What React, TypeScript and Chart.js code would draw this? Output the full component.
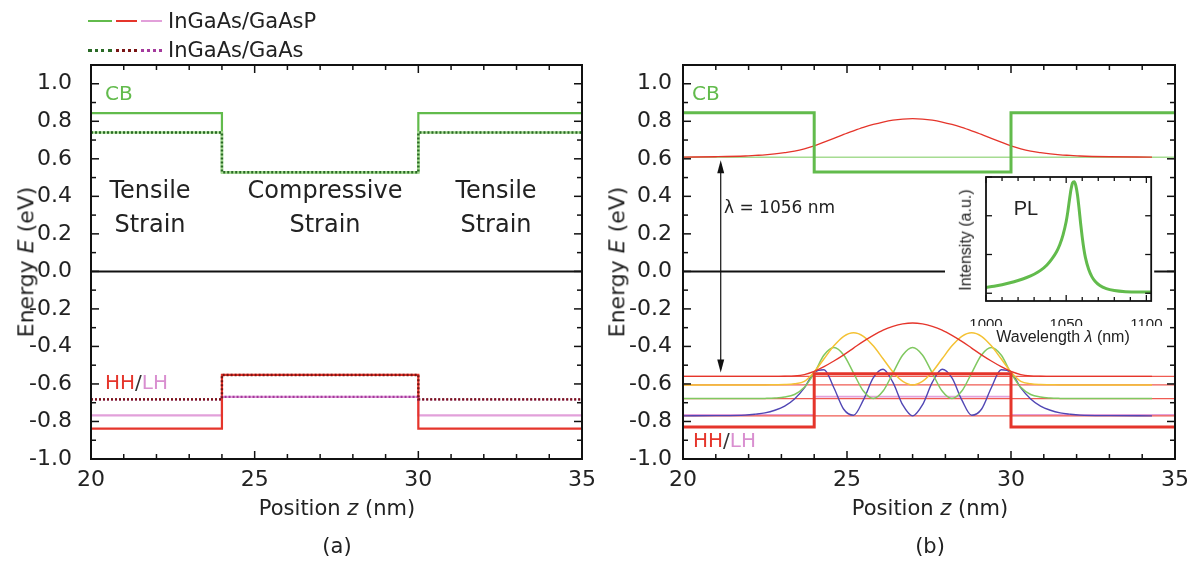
import React, { useEffect, useRef } from "react";
import { Chart, registerables } from "chart.js";

Chart.register(...registerables);

const MAIN_FONT = "'DejaVu Sans', 'Liberation Sans', sans-serif";
const INSET_FONT = "'Liberation Sans', Arial, sans-serif";
const TEXT = "#222";

// ---------------- axes ----------------
const Z_RANGE = [20, 35];
const E_RANGE = [-1.0, 1.1];
const Z_TICKS = [20, 25, 30, 35];
const E_TICKS = [-1.0, -0.8, -0.6, -0.4, -0.2, 0.0, 0.2, 0.4, 0.6, 0.8, 1.0];

// ---------------- band edges: [barrier, well, barrier] ----------------
const REGION_EDGES = [20, 24, 30, 35];
// panel (a)
const CB_GAASP = [0.843, 0.528, 0.843];
const CB_GAAS = [0.74, 0.528, 0.74];
const HH_GAASP = [-0.838, -0.552, -0.838];
const LH_GAASP = [-0.768, -0.669, -0.768];
const HH_GAAS = [-0.682, -0.552, -0.682];
const LH_GAAS = [-0.682, -0.669, -0.682];
const ZERO_E = [0, 0];
// panel (b)
const CB_B = [0.845, 0.53, 0.845];
const HH_B = [-0.83, -0.545, -0.83];
const LH_B = [-0.765, -0.668, -0.765];
const CB_LEVEL = 0.608;
const HOLE_LEVELS = [-0.56, -0.605, -0.678, -0.77];

// ---------------- wavefunctions (panel b) ----------------
const Z_WF = [20, 21, 21.9, 22.2, 22.5, 22.8, 23.1, 23.4, 23.7, 24.0, 24.3, 24.6, 24.9, 25.2, 25.5, 25.8, 26.1, 26.4, 26.7, 27.0,
  27.3, 27.6, 27.9, 28.2, 28.5, 28.8, 29.1, 29.4, 29.7, 30.0, 30.3, 30.6, 30.9, 31.2, 31.5, 31.8, 32.1, 33, 34.3, 35];
const ELECTRON = [0.609, 0.611, 0.615, 0.618, 0.621, 0.626, 0.633, 0.641, 0.653, 0.669, 0.689, 0.709, 0.730, 0.749, 0.767, 0.783, 0.796, 0.806, 0.812, 0.814,
  0.812, 0.806, 0.796, 0.783, 0.767, 0.749, 0.730, 0.709, 0.689, 0.669, 0.653, 0.641, 0.633, 0.626, 0.621, 0.618, 0.615, 0.611, 0.609, null];
const HOLE1 = [-0.56, -0.56, -0.56, -0.56, -0.56, -0.56, -0.559, -0.557, -0.55, -0.533, -0.508, -0.478, -0.445, -0.409, -0.373, -0.341, -0.313, -0.293, -0.28, -0.275,
  -0.28, -0.293, -0.313, -0.341, -0.373, -0.409, -0.445, -0.478, -0.508, -0.533, -0.55, -0.557, -0.559, -0.56, -0.56, -0.56, -0.56, -0.56, -0.56, null];
const HOLE2 = [-0.605, -0.605, -0.605, -0.605, -0.605, -0.604, -0.603, -0.599, -0.586, -0.536, -0.466, -0.397, -0.346, -0.327, -0.346, -0.397, -0.466, -0.536, -0.586, -0.605,
  -0.586, -0.536, -0.466, -0.397, -0.346, -0.327, -0.346, -0.397, -0.466, -0.536, -0.586, -0.599, -0.603, -0.604, -0.605, -0.605, -0.605, -0.605, -0.605, null];
const HOLE3 = [-0.678, -0.678, -0.678, -0.678, -0.677, -0.675, -0.67, -0.656, -0.618, -0.542, -0.446, -0.406, -0.446, -0.542, -0.638, -0.678, -0.638, -0.542, -0.446, -0.406,
  -0.446, -0.542, -0.638, -0.678, -0.638, -0.542, -0.446, -0.406, -0.446, -0.542, -0.618, -0.656, -0.67, -0.675, -0.677, -0.678, -0.678, -0.678, -0.678, null];
const HOLE4 = [-0.77, -0.769, -0.766, -0.761, -0.754, -0.74, -0.718, -0.68, -0.621, -0.538, -0.524, -0.62, -0.735, -0.767, -0.685, -0.568, -0.522, -0.592, -0.712, -0.77,
  -0.712, -0.592, -0.522, -0.568, -0.685, -0.767, -0.735, -0.62, -0.524, -0.538, -0.621, -0.68, -0.718, -0.74, -0.754, -0.761, -0.766, -0.769, -0.77, null];

// transition arrow (panel b)
const ARROW_Z = 21.15;
const ARROW_E = [0.608, -0.56];

// ---------------- inset PL spectrum ----------------
const WL_RANGE = [1000, 1103];
const PL_RANGE = [-0.2, 3.0];
const WL_TICKS = [1000, 1050, 1100];
const WAVELENGTH = [1000, 1005, 1010, 1015, 1020, 1025, 1030, 1034, 1038, 1041, 1044, 1046, 1048, 1050, 1051, 1052, 1053, 1054, 1055,
  1056, 1057, 1058, 1059, 1060, 1061, 1062, 1064, 1066, 1068, 1071, 1075, 1080, 1087, 1095, 1103];
const PL = [0.15, 0.18, 0.22, 0.27, 0.33, 0.4, 0.49, 0.59, 0.73, 0.88, 1.07, 1.25, 1.5, 1.85, 2.1, 2.4, 2.68, 2.85, 2.88,
  2.78, 2.55, 2.2, 1.8, 1.45, 1.15, 0.92, 0.62, 0.43, 0.31, 0.2, 0.12, 0.07, 0.04, 0.03, 0.03];

// ---------------- palette ----------------
const COL = {
  green: "#62bb4c", greenLight: "#a6dc92", greenDot: "#2a6a26",
  red: "#e5352b", redDot: "#7a1515", pink: "#e2a0da", magDot: "#a43a9c",
  level: "#ef5b52", yellow: "#f4c235", wfGreen: "#80c860", blue: "#5046b4",
  black: "#111",
};

// ---------------- helpers ----------------
const steps = (vals: number[]) => REGION_EDGES.map((z, i) => ({ x: z, y: vals[Math.min(i, vals.length - 1)] }));
const flat = (e: number) => Z_RANGE.map((z) => ({ x: z, y: e }));
const pairs = (zs: number[], es: (number | null)[]) =>
  zs.map((z, i) => ({ x: z, y: es[i] })).filter((p) => p.y !== null && p.y !== undefined);

const ds = (data: any[], color: string, width: number, extra: any = {}) => ({
  data, borderColor: color, backgroundColor: color, borderWidth: width, pointRadius: 0, fill: false, tension: 0, ...extra,
});

// bottom-to-top list -> Chart.js order
const stack = (list: any[]) => list.map((d, i) => ({ ...d, order: list.length - i }));

type FrameCfg = {
  xStart: number; xMinor: number; xMajor: number; yStart: number; yMinor: number; yMajor: number;
  major: number; minor: number; lineWidth: number; tickWidth: number;
};

function makeFramePlugin(o: FrameCfg) {
  return {
    id: "frameBox",
    afterDraw(chart: any) {
      const { ctx, chartArea: a, scales } = chart;
      const xs = scales.x, ys = scales.y;
      ctx.save();
      ctx.strokeStyle = COL.black;
      ctx.lineWidth = o.tickWidth;
      const seg = (x1: number, y1: number, x2: number, y2: number) => {
        ctx.beginPath(); ctx.moveTo(x1, y1); ctx.lineTo(x2, y2); ctx.stroke();
      };
      const isMajor = (v: number, start: number, major: number) => {
        const r = (v - start) / major;
        return Math.abs(r - Math.round(r)) < 1e-6;
      };
      for (let k = 0; k < 500; k++) {
        const v = o.xStart + k * o.xMinor;
        if (v > xs.max + 1e-9) break;
        const p = xs.getPixelForValue(v);
        const L = isMajor(v, o.xStart, o.xMajor) ? o.major : o.minor;
        seg(p, a.bottom, p, a.bottom - L);
        seg(p, a.top, p, a.top + L);
      }
      for (let k = 0; k < 500; k++) {
        const v = o.yStart + k * o.yMinor;
        if (v > ys.max + 1e-9) break;
        const p = ys.getPixelForValue(v);
        const L = isMajor(v, o.yStart, o.yMajor) ? o.major : o.minor;
        seg(a.left, p, a.left + L, p);
        seg(a.right, p, a.right - L, p);
      }
      ctx.lineWidth = o.lineWidth;
      ctx.strokeRect(a.left, a.top, a.right - a.left, a.bottom - a.top);
      ctx.restore();
    },
  };
}

function makeArrowPlugin(z: number, e: number[]) {
  return {
    id: "arrowMark",
    afterDatasetsDraw(chart: any) {
      const { ctx, scales } = chart;
      const px = scales.x.getPixelForValue(z);
      const p1 = scales.y.getPixelForValue(e[0]) + 3;
      const p2 = scales.y.getPixelForValue(e[1]) - 4;
      ctx.save();
      ctx.strokeStyle = COL.black; ctx.fillStyle = COL.black; ctx.lineWidth = 1.2;
      ctx.beginPath(); ctx.moveTo(px, p1 + 4); ctx.lineTo(px, p2 - 4); ctx.stroke();
      const head = (tip: number, dir: number) => {
        ctx.beginPath(); ctx.moveTo(px, tip); ctx.lineTo(px - 3.5, tip + dir * 13); ctx.lineTo(px + 3.5, tip + dir * 13); ctx.closePath(); ctx.fill();
      };
      head(p1, 1); head(p2, -1);
      ctx.restore();
    },
  };
}

const whiteBgPlugin = {
  id: "whiteBg",
  beforeDraw(chart: any) {
    const { ctx, chartArea: a } = chart;
    ctx.save();
    ctx.fillStyle = "#fff";
    ctx.fillRect(0, 0, a.right + 3, chart.height);
    ctx.restore();
  },
};

function mainScales(yPad: number, yWidth: number) {
  const font = { family: MAIN_FONT, size: 22 };
  return {
    x: {
      type: "linear", min: Z_RANGE[0], max: Z_RANGE[1],
      grid: { display: false }, border: { display: false },
      afterBuildTicks: (s: any) => { s.ticks = Z_TICKS.map((v) => ({ value: v })); },
      afterFit: (s: any) => { s.height = 103; },
      ticks: { autoSkip: false, maxRotation: 0, padding: 0, color: TEXT, font, callback: (v: any) => String(v) },
    },
    y: {
      type: "linear", min: E_RANGE[0], max: E_RANGE[1],
      grid: { display: false }, border: { display: false },
      afterBuildTicks: (s: any) => { s.ticks = E_TICKS.map((v) => ({ value: v })); },
      afterFit: (s: any) => { s.width = yWidth; },
      ticks: { autoSkip: false, padding: yPad, color: TEXT, font, callback: (v: any) => Number(v).toFixed(1) },
    },
  };
}

const MAIN_FRAME: FrameCfg = { xStart: 20, xMinor: 1, xMajor: 5, yStart: -1.0, yMinor: 0.1, yMajor: 0.2, major: 8, minor: 5, lineWidth: 2, tickWidth: 1.5 };
const INSET_FRAME: FrameCfg = { xStart: 1000, xMinor: 10, xMajor: 50, yStart: 0, yMinor: 1, yMajor: 1, major: 6, minor: 4, lineWidth: 1.8, tickWidth: 1.3 };

function configA(): any {
  const dotted = { borderDash: [2, 2] };
  const list = [
    ds(flat(ZERO_E[0]), COL.black, 2),
    ds(steps(LH_GAASP), COL.pink, 2.2, { stepped: true }),
    ds(steps(HH_GAASP), COL.red, 2.2, { stepped: true }),
    ds(steps(CB_GAASP), COL.green, 2.2, { stepped: true }),
    ds(steps(CB_GAAS), COL.greenLight, 2.6, { stepped: true }),
    ds(steps(LH_GAAS), COL.magDot, 2.4, { stepped: true, ...dotted }),
    ds(steps(HH_GAAS), COL.redDot, 2.4, { stepped: true, ...dotted }),
    ds(steps(CB_GAAS), COL.greenDot, 2.4, { stepped: true, ...dotted }),
  ];
  return {
    type: "line",
    data: { datasets: stack(list) },
    options: {
      responsive: false, animation: false, devicePixelRatio: 1,
      layout: { padding: { left: 0, right: 15, top: 65, bottom: 0 } },
      scales: mainScales(11, 91),
      plugins: { legend: { display: false }, tooltip: { enabled: false } },
    },
    plugins: [makeFramePlugin(MAIN_FRAME)],
  };
}

function configB(): any {
  const curve = { cubicInterpolationMode: "monotone" };
  const list = [
    ds(flat(ZERO_E[0]), COL.black, 2),
    ds(steps(LH_B), COL.pink, 1.8, { stepped: true }),
    ...HOLE_LEVELS.map((e) => ds(flat(e), COL.level, 1.2)),
    ds(flat(CB_LEVEL), COL.greenLight, 1.6),
    ds(pairs(Z_WF, HOLE4), COL.blue, 1.4, curve),
    ds(pairs(Z_WF, HOLE3), COL.wfGreen, 1.5, curve),
    ds(pairs(Z_WF, HOLE2), COL.yellow, 1.5, curve),
    ds(pairs(Z_WF, HOLE1), COL.red, 1.3, curve),
    ds(pairs(Z_WF, ELECTRON), COL.red, 1.3, curve),
    ds(steps(HH_B), COL.red, 3, { stepped: true }),
    ds(steps(CB_B), COL.green, 3, { stepped: true }),
  ];
  return {
    type: "line",
    data: { datasets: stack(list) },
    options: {
      responsive: false, animation: false, devicePixelRatio: 1,
      layout: { padding: { left: 0, right: 19, top: 65, bottom: 0 } },
      scales: mainScales(3, 86),
      plugins: { legend: { display: false }, tooltip: { enabled: false } },
    },
    plugins: [makeFramePlugin(MAIN_FRAME), makeArrowPlugin(ARROW_Z, ARROW_E)],
  };
}

function configInset(): any {
  const font = { family: INSET_FONT, size: 15 };
  return {
    type: "line",
    data: {
      datasets: [ds(pairs(WAVELENGTH, PL), COL.green, 3, { cubicInterpolationMode: "monotone" })],
    },
    options: {
      responsive: false, animation: false, devicePixelRatio: 1,
      layout: { padding: { left: 0, right: 17, top: 3, bottom: 0 } },
      scales: {
        x: {
          type: "linear", min: WL_RANGE[0], max: WL_RANGE[1],
          grid: { display: false }, border: { display: false },
          afterBuildTicks: (s: any) => { s.ticks = WL_TICKS.map((v) => ({ value: v })); },
          afterFit: (s: any) => { s.height = 25; },
          ticks: { autoSkip: false, maxRotation: 0, padding: 7, color: TEXT, font, callback: (v: any) => String(v) },
        },
        y: {
          type: "linear", min: PL_RANGE[0], max: PL_RANGE[1],
          grid: { display: false }, border: { display: false },
          afterFit: (s: any) => { s.width = 41; },
          ticks: { display: false },
        },
      },
      plugins: { legend: { display: false }, tooltip: { enabled: false } },
    },
    plugins: [whiteBgPlugin, makeFramePlugin(INSET_FRAME)],
  };
}

type TP = {
  x: number; y: number; size: number; color?: string; rot?: boolean; left?: boolean;
  family?: string; lh?: number; children: React.ReactNode;
};
function Txt({ x, y, size, color = TEXT, rot = false, left = false, family = MAIN_FONT, lh = 1.15, children }: TP) {
  const tr = (left ? "translate(0,-50%)" : "translate(-50%,-50%)") + (rot ? " rotate(-90deg)" : "");
  return (
    <div style={{
      position: "absolute", left: x, top: y, transform: tr, fontFamily: family, fontSize: size, color,
      whiteSpace: "nowrap", lineHeight: lh, textAlign: "center",
    }}>{children}</div>
  );
}

function Sample({ x, y, w, color, dotted }: { x: number; y: number; w: number; color: string; dotted?: boolean }) {
  return (
    <div style={{
      position: "absolute", left: x, top: y - 1.5, width: w, height: 0,
      borderTop: dotted ? `3px dotted ${color}` : `2.5px solid ${color}`,
    }} />
  );
}

export default function App() {
  const aRef = useRef<HTMLCanvasElement>(null);
  const bRef = useRef<HTMLCanvasElement>(null);
  const iRef = useRef<HTMLCanvasElement>(null);

  useEffect(() => {
    const charts = [
      new Chart(aRef.current as HTMLCanvasElement, configA()),
      new Chart(bRef.current as HTMLCanvasElement, configB()),
      new Chart(iRef.current as HTMLCanvasElement, configInset()),
    ];
    return () => charts.forEach((c) => c.destroy());
  }, []);

  const HL = (
    <>
      <span style={{ color: COL.red }}>HH</span>
      <span style={{ color: "#333" }}>/</span>
      <span style={{ color: "#d98fd0" }}>LH</span>
    </>
  );

  return (
    <div style={{ position: "absolute", left: 0, top: 0, width: 1194, height: 562, background: "#fff", overflow: "hidden" }}>
      <canvas ref={aRef} width={597} height={562} style={{ position: "absolute", left: 0, top: 0, width: 597, height: 562 }} />
      <canvas ref={bRef} width={597} height={562} style={{ position: "absolute", left: 597, top: 0, width: 597, height: 562 }} />
      <canvas ref={iRef} width={225} height={152} style={{ position: "absolute", left: 945, top: 174, width: 225, height: 152 }} />

      {/* legend */}
      <Sample x={88} y={21} w={24} color={COL.green} />
      <Sample x={116} y={21} w={21} color={COL.red} />
      <Sample x={141} y={21} w={21} color={COL.pink} />
      <Txt x={168} y={21} size={21} left>InGaAs/GaAsP</Txt>
      <Sample x={88} y={50} w={24} color={COL.greenDot} dotted />
      <Sample x={116} y={50} w={21} color={COL.redDot} dotted />
      <Sample x={141} y={50} w={21} color={COL.magDot} dotted />
      <Txt x={168} y={50} size={21} left>InGaAs/GaAs</Txt>

      {/* panel (a) annotations */}
      <Txt x={105} y={93} size={20} color={COL.green} left>CB</Txt>
      <Txt x={150} y={207} size={24} lh={1.42}>Tensile<br />Strain</Txt>
      <Txt x={325} y={207} size={24} lh={1.42}>Compressive<br />Strain</Txt>
      <Txt x={496} y={207} size={24} lh={1.42}>Tensile<br />Strain</Txt>
      <Txt x={105} y={382} size={20} left>{HL}</Txt>
      <Txt x={26} y={262} size={22} rot>Energy <i>E</i> (eV)</Txt>
      <Txt x={337} y={508} size={21}>Position <i>z</i> (nm)</Txt>
      <Txt x={337} y={546} size={21}>(a)</Txt>

      {/* panel (b) annotations */}
      <Txt x={692} y={93} size={20} color={COL.green} left>CB</Txt>
      <Txt x={724} y={208} size={17} left>λ = 1056 nm</Txt>
      <Txt x={693} y={440} size={20} left>{HL}</Txt>
      <Txt x={617} y={262} size={22} rot>Energy <i>E</i> (eV)</Txt>
      <Txt x={930} y={508} size={21}>Position <i>z</i> (nm)</Txt>
      <Txt x={930} y={546} size={21}>(b)</Txt>

      {/* inset annotations */}
      <Txt x={1026} y={208} size={20} family={INSET_FONT}>PL</Txt>
      <Txt x={966} y={240} size={16} family={INSET_FONT} rot>Intensity (a.u.)</Txt>
      <Txt x={1063} y={337} size={16} family={INSET_FONT}>Wavelength <i>λ</i> (nm)</Txt>
    </div>
  );
}
